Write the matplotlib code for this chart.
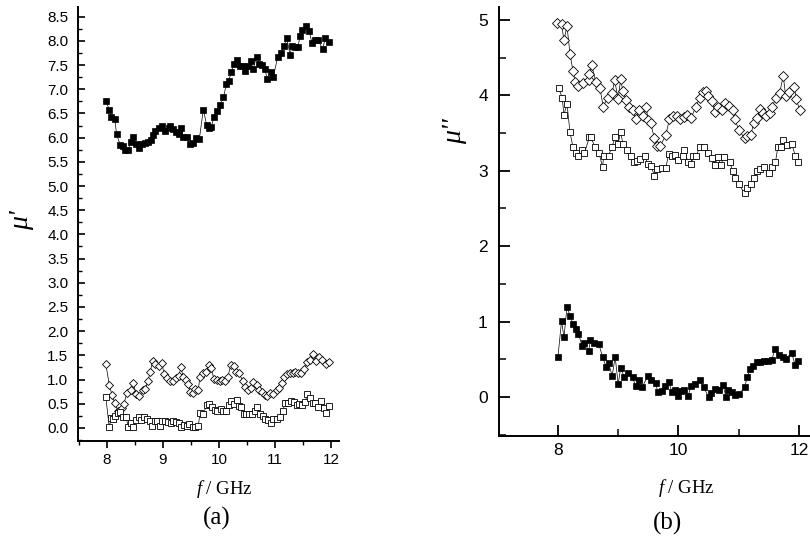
import numpy as np
import matplotlib
matplotlib.use("Agg")
import matplotlib.pyplot as plt
from matplotlib.ticker import MultipleLocator, FormatStrFormatter

plt.rcParams["mathtext.fontset"] = "custom"
plt.rcParams["mathtext.it"] = "Liberation Serif:italic"
plt.rcParams["mathtext.rm"] = "Liberation Serif"

# ---------------- (a) real part mu' ----------------
# filled squares
fa_fill = [7.98, 8.04, 8.08, 8.14, 8.17, 8.24, 8.28, 8.32, 8.38, 8.42, 8.47, 8.52, 8.58, 8.63,
           8.68, 8.74, 8.78, 8.82, 8.86, 8.92, 8.98, 9.04, 9.10, 9.13, 9.18, 9.23, 9.28, 9.33,
           9.36, 9.43, 9.48, 9.53, 9.59, 9.65, 9.72, 9.78, 9.82, 9.86, 9.91, 9.97, 10.02, 10.08,
           10.13, 10.17, 10.22, 10.27, 10.33, 10.38, 10.42, 10.47, 10.52, 10.57, 10.61, 10.67,
           10.72, 10.77, 10.82, 10.86, 10.92, 10.97, 11.05, 11.11, 11.16, 11.21, 11.27, 11.30,
           11.35, 11.41, 11.45, 11.49, 11.55, 11.61, 11.66, 11.72, 11.77, 11.85, 11.90, 11.96]
ma_fill = [6.76, 6.58, 6.43, 6.39, 6.07, 5.84, 5.83, 5.75, 5.75, 5.90, 6.01, 5.86, 5.79, 5.87,
           5.89, 5.90, 5.95, 6.06, 6.13, 6.20, 6.23, 6.13, 6.19, 6.23, 6.17, 6.11, 6.08, 6.19,
           6.02, 6.02, 5.87, 5.89, 6.00, 5.98, 6.58, 6.26, 6.19, 6.21, 6.43, 6.54, 6.67, 6.83,
           7.10, 7.17, 7.35, 7.53, 7.60, 7.47, 7.47, 7.37, 7.49, 7.58, 7.42, 7.67,
           7.53, 7.51, 7.42, 7.21, 7.35, 7.26, 7.67, 7.75, 7.89, 8.06, 7.71, 7.89,
           7.87, 7.87, 8.11, 8.23, 8.30, 8.21, 7.95, 8.01, 8.02, 7.83, 8.06, 7.97]

# open diamonds
fa_dia = [7.98, 8.04, 8.09, 8.14, 8.20, 8.26, 8.30, 8.36, 8.42, 8.47, 8.52, 8.58, 8.64, 8.68,
          8.73, 8.77, 8.82, 8.86, 8.92, 8.98, 9.02, 9.07, 9.13, 9.17, 9.23, 9.28, 9.32, 9.36,
          9.41, 9.45, 9.48, 9.53, 9.58, 9.63, 9.66, 9.72, 9.77, 9.82, 9.86, 9.91, 9.96, 10.01,
          10.05, 10.11, 10.16, 10.21, 10.26, 10.30, 10.36, 10.42, 10.47, 10.52, 10.57, 10.61,
          10.67, 10.72, 10.77, 10.82, 10.86, 10.91, 10.97, 11.03, 11.08, 11.13, 11.16, 11.21,
          11.26, 11.32, 11.36, 11.41, 11.47, 11.52, 11.58, 11.63, 11.68, 11.73, 11.78, 11.84,
          11.91, 11.97]
ma_dia = [1.32, 0.89, 0.68, 0.51, 0.34, 0.41, 0.50, 0.73, 0.79, 0.92, 0.70, 0.65, 0.79, 0.80,
          0.96, 1.16, 1.39, 1.32, 1.28, 1.34, 1.11, 1.03, 0.96, 0.96, 1.03, 1.07, 1.25, 1.06,
          0.99, 0.91, 0.75, 0.72, 0.80, 0.79, 1.06, 1.13, 1.16, 1.30, 1.23, 1.01, 0.99, 0.96,
          0.99, 0.96, 1.06, 1.30, 1.27, 1.16, 1.13, 0.98, 0.85, 0.79, 0.82, 0.94,
          0.89, 0.79, 0.75, 0.68, 0.65, 0.72, 0.70, 0.79, 0.82, 0.92, 1.05, 1.12,
          1.13, 1.14, 1.16, 1.13, 1.14, 1.21, 1.37, 1.40, 1.53, 1.39, 1.47, 1.40,
          1.32, 1.37]

# open squares
fa_sq = [7.98, 8.04, 8.07, 8.11, 8.15, 8.20, 8.24, 8.29, 8.34, 8.38, 8.42, 8.47, 8.52, 8.57,
         8.61, 8.66, 8.71, 8.76, 8.80, 8.85, 8.90, 8.95, 8.99, 9.04, 9.09, 9.14, 9.18, 9.23,
         9.28, 9.33, 9.38, 9.42, 9.47, 9.53, 9.58, 9.63, 9.66, 9.72, 9.78, 9.83, 9.88, 9.92,
         9.97, 10.03, 10.08, 10.13, 10.17, 10.21, 10.26, 10.32, 10.35, 10.40, 10.45, 10.49,
         10.54, 10.59, 10.64, 10.68, 10.73, 10.78, 10.83, 10.88, 10.92, 10.97, 11.03, 11.09,
         11.14, 11.18, 11.24, 11.29, 11.34, 11.39, 11.43, 11.49, 11.54, 11.58, 11.63, 11.67,
         11.72, 11.77, 11.83, 11.88, 11.92, 11.96]
ma_sq = [0.63, 0.01, 0.20, 0.18, 0.25, 0.30, 0.32, 0.23, 0.23, 0.01, 0.10, 0.01, 0.17, 0.22,
         0.17, 0.22, 0.18, 0.15, 0.04, 0.15, 0.15, 0.04, 0.14, 0.15, 0.12, 0.11, 0.14, 0.12,
         0.10, 0.01, 0.06, 0.04, 0.08, 0.01, 0.01, 0.04, 0.30, 0.28, 0.48, 0.50, 0.43, 0.37,
         0.36, 0.39, 0.36, 0.36, 0.48, 0.56, 0.50, 0.58, 0.45, 0.44, 0.29, 0.29,
         0.29, 0.29, 0.36, 0.43, 0.29, 0.25, 0.18, 0.17, 0.11, 0.18, 0.19, 0.22,
         0.36, 0.51, 0.52, 0.56, 0.54, 0.48, 0.50, 0.47, 0.54, 0.70, 0.61, 0.52,
         0.51, 0.43, 0.56, 0.41, 0.30, 0.45]

# ---------------- (b) imaginary part mu'' ----------------
fb_dia = [7.99, 8.06, 8.10, 8.15, 8.20, 8.25, 8.29, 8.34, 8.42, 8.51, 8.52, 8.56, 8.63, 8.70,
          8.75, 8.83, 8.90, 8.94, 9.00, 9.04, 9.08, 9.13, 9.18, 9.24, 9.29, 9.35, 9.41, 9.46,
          9.50, 9.54, 9.60, 9.65, 9.70, 9.79, 9.85, 9.91, 9.97, 10.02, 10.09, 10.15, 10.21,
          10.29, 10.35, 10.40, 10.45, 10.49, 10.56, 10.60, 10.66, 10.72, 10.78, 10.84, 10.90,
          10.94, 11.00, 11.10, 11.14, 11.20, 11.25, 11.31, 11.36, 11.40, 11.45, 11.52, 11.56,
          11.62, 11.68, 11.74, 11.78, 11.84, 11.92, 11.96, 12.01]
mb_dia = [4.96, 4.94, 4.73, 4.92, 4.55, 4.32, 4.17, 4.12, 4.16, 4.20, 4.28, 4.40, 4.17, 4.09,
          3.85, 3.97, 4.03, 4.20, 3.95, 4.21, 4.05, 3.94, 3.84, 3.81, 3.68, 3.81, 3.72, 3.85,
          3.67, 3.63, 3.43, 3.33, 3.33, 3.47, 3.68, 3.73, 3.73, 3.68, 3.71, 3.74, 3.70,
          3.85, 3.96, 4.04, 4.05, 3.99, 3.93, 3.78, 3.84, 3.81, 3.90, 3.86, 3.81,
          3.68, 3.54, 3.43, 3.46, 3.47, 3.63, 3.70, 3.82, 3.76, 3.73, 3.76, 3.85,
          3.97, 4.03, 4.26, 3.99, 4.04, 4.11, 3.95, 3.80]

fb_sq = [8.01, 8.07, 8.10, 8.15, 8.20, 8.25, 8.30, 8.34, 8.40, 8.44, 8.52, 8.55, 8.61, 8.68,
         8.74, 8.76, 8.84, 8.90, 8.95, 9.00, 9.04, 9.08, 9.15, 9.21, 9.26, 9.32, 9.37, 9.45,
         9.49, 9.55, 9.60, 9.65, 9.72, 9.79, 9.84, 9.89, 9.95, 10.00, 10.07, 10.10, 10.16,
         10.21, 10.25, 10.30, 10.35, 10.43, 10.49, 10.56, 10.60, 10.66, 10.70, 10.76, 10.85,
         10.90, 10.94, 11.00, 11.10, 11.14, 11.20, 11.25, 11.31, 11.36, 11.42, 11.50, 11.55,
         11.61, 11.65, 11.70, 11.74, 11.80, 11.88, 11.94, 11.99]
mb_sq = [4.10, 3.97, 3.74, 3.89, 3.51, 3.31, 3.23, 3.20, 3.28, 3.23, 3.44, 3.44, 3.32, 3.24,
         3.05, 3.19, 3.20, 3.32, 3.45, 3.36, 3.51, 3.36, 3.28, 3.19, 3.12, 3.13, 3.15, 3.19,
         3.09, 3.06, 2.93, 3.02, 3.04, 3.04, 3.22, 3.19, 3.21, 3.14, 3.19, 3.27, 3.11,
         3.09, 3.19, 3.20, 3.31, 3.31, 3.24, 3.17, 3.08, 3.18, 3.08, 3.18, 3.12,
         3.00, 2.90, 2.82, 2.70, 2.77, 2.82, 2.90, 3.00, 3.02, 3.05, 2.97, 3.05,
         3.11, 3.31, 3.31, 3.41, 3.34, 3.36, 3.20, 3.11]

fb_fill = [8.00, 8.06, 8.10, 8.15, 8.20, 8.25, 8.30, 8.34, 8.40, 8.44, 8.51, 8.54, 8.60, 8.68,
           8.74, 8.80, 8.84, 8.90, 8.95, 9.00, 9.04, 9.10, 9.17, 9.24, 9.29, 9.34, 9.40, 9.49,
           9.54, 9.62, 9.66, 9.72, 9.77, 9.84, 9.89, 9.95, 10.00, 10.05, 10.10, 10.16, 10.21,
           10.28, 10.35, 10.42, 10.50, 10.54, 10.61, 10.67, 10.74, 10.79, 10.83, 10.89, 10.94,
           11.01, 11.10, 11.14, 11.19, 11.24, 11.30, 11.36, 11.42, 11.49, 11.55, 11.60, 11.67,
           11.73, 11.78, 11.88, 11.94, 11.98]
mb_fill = [0.53, 1.01, 0.79, 1.19, 1.08, 0.97, 0.90, 0.84, 0.68, 0.72, 0.61, 0.75, 0.71, 0.70,
           0.53, 0.40, 0.45, 0.28, 0.53, 0.17, 0.38, 0.27, 0.32, 0.26, 0.14, 0.23, 0.13, 0.28,
           0.22, 0.19, 0.06, 0.08, 0.14, 0.20, 0.07, 0.09, 0.01, 0.08, 0.09, 0.01, 0.15,
           0.17, 0.23, 0.13, 0.00, 0.05, 0.10, 0.09, 0.16, 0.00, 0.09, 0.07, 0.02,
           0.04, 0.13, 0.26, 0.37, 0.41, 0.47, 0.46, 0.48, 0.48, 0.49, 0.63, 0.56,
           0.53, 0.51, 0.58, 0.42, 0.48]

SANS = "Liberation Sans"
SERIF = "Liberation Serif"

fig = plt.figure(figsize=(8.1, 5.37), dpi=100)

# ---- panel (a) ----
ax1 = fig.add_axes([0.0963, 0.1788, 0.3222, 0.8082])
ax1.plot(fa_fill, ma_fill, "-", color="k", lw=0.5, marker="s", ms=4.5,
         mfc="k", mec="k", mew=0.5)
ax1.plot(fa_dia, ma_dia, "-", color="k", lw=0.5, marker="D", ms=3.8,
         mfc="white", mec="k", mew=0.6)
ax1.plot(fa_sq, ma_sq, "-", color="k", lw=0.5, marker="s", ms=3.9,
         mfc="white", mec="k", mew=0.6)
ax1.set_xlim(7.482, 12.143)
ax1.set_ylim(-0.27, 8.70)
ax1.xaxis.set_major_locator(MultipleLocator(1))
ax1.xaxis.set_minor_locator(MultipleLocator(0.5))
ax1.yaxis.set_major_locator(MultipleLocator(0.5))
ax1.yaxis.set_minor_locator(MultipleLocator(0.25))
ax1.yaxis.set_major_formatter(FormatStrFormatter("%.1f"))
ax1.tick_params(axis="x", which="major", direction="out", length=5, width=1.2, pad=4)
ax1.tick_params(axis="x", which="minor", direction="out", length=3, width=1.0)
ax1.tick_params(axis="y", which="major", direction="in", length=5, width=1.2, pad=7)
ax1.tick_params(axis="y", which="minor", direction="in", length=3, width=1.0)
for lab in ax1.get_xticklabels() + ax1.get_yticklabels():
    lab.set_fontfamily(SANS)
    lab.set_fontsize(11)
ax1.set_xlabel("$f$ / GHz", fontfamily=SERIF, fontsize=13.5)
ax1.xaxis.set_label_coords(0.56, -0.085)
ax1.set_ylabel("μ'", fontfamily=SERIF, fontstyle="italic", fontsize=20)
ax1.yaxis.set_label_coords(-0.17, 0.51)

# ---- panel (b) ----
ax2 = fig.add_axes([0.6160, 0.1881, 0.3889, 0.7989])
ax2.plot(fb_dia, mb_dia, "-", color="k", lw=0.5, marker="D", ms=5.4,
         mfc="white", mec="k", mew=0.6)
ax2.plot(fb_sq, mb_sq, "-", color="k", lw=0.5, marker="s", ms=4.8,
         mfc="white", mec="k", mew=0.6)
ax2.plot(fb_fill, mb_fill, "-", color="k", lw=0.5, marker="s", ms=5.0,
         mfc="k", mec="k", mew=0.5)
ax2.set_xlim(7.021, 12.25)
ax2.set_ylim(-0.517, 5.17)
ax2.xaxis.set_major_locator(MultipleLocator(2))
ax2.xaxis.set_minor_locator(MultipleLocator(1))
ax2.yaxis.set_major_locator(MultipleLocator(1))
ax2.yaxis.set_minor_locator(MultipleLocator(0.5))
ax2.tick_params(which="major", direction="in", length=8, width=1.3, pad=5)
ax2.tick_params(which="minor", direction="in", length=5, width=1.1)
ax2.tick_params(axis="y", which="major", pad=8)
for lab in ax2.get_xticklabels() + ax2.get_yticklabels():
    lab.set_fontfamily(SANS)
    lab.set_fontsize(12.5)
ax2.set_xlabel("$f$ / GHz", fontfamily=SERIF, fontsize=13.5)
ax2.xaxis.set_label_coords(0.594, -0.095)
ax2.set_ylabel("μ''", fontfamily=SERIF, fontstyle="italic", fontsize=20)
ax2.yaxis.set_label_coords(-0.10, 0.71)

for ax in (ax1, ax2):
    ax.spines["top"].set_visible(False)
    ax.spines["right"].set_visible(False)
    ax.spines["left"].set_linewidth(1.4)
    ax.spines["bottom"].set_linewidth(1.4)
    ax.patch.set_alpha(0)

fig.text(217 / 810, 1 - 518 / 537, "(a)", fontfamily=SERIF, fontsize=18,
         ha="center", va="center")
fig.text(667 / 810, 1 - 523 / 537, "(b)", fontfamily=SERIF, fontsize=18,
         ha="center", va="center")

fig.savefig("out.png", dpi=100)
